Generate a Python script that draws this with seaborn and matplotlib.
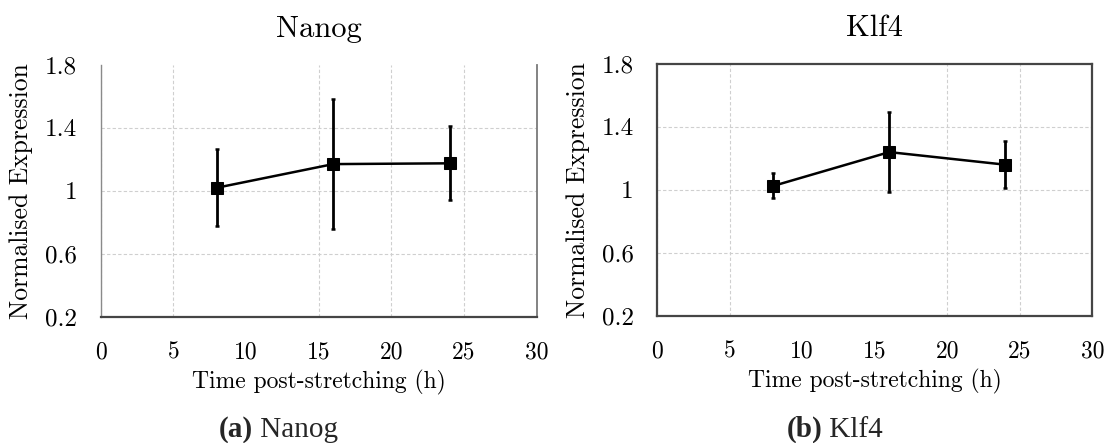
import os
import matplotlib
matplotlib.use("Agg")
import matplotlib.pyplot as plt
from matplotlib import font_manager
import seaborn as sns

# Expression after stretching (mean ± error)
hours = [8, 16, 24]
nanog_mean = [1.02, 1.17, 1.175]
nanog_err = [0.245, 0.415, 0.235]
klf4_mean = [1.025, 1.24, 1.16]
klf4_err = [0.08, 0.253, 0.151]

y_ticks = [0.2, 0.6, 1.0, 1.4, 1.8]
y_tick_labels = ["0.2", "0.6", "1", "1.4", "1.8"]
x_ticks = [0, 5, 10, 15, 20, 25, 30]
x_tick_labels = ["0", "5", "10", "15", "20", "25", "30"]

panel_titles = ["Nanog", "Klf4"]
panel_tags = ["(a)", "(b)"]

# Computer Modern for the chart text, shipped with matplotlib
cm_path = os.path.join(matplotlib.get_data_path(), "fonts", "ttf", "cmr10.ttf")
font_manager.fontManager.addfont(cm_path)
cm_name = font_manager.FontProperties(fname=cm_path).get_name()


def pick(family, fallback):
    try:
        font_manager.findfont(family, fallback_to_default=False)
        return family
    except Exception:
        return fallback


times_name = pick("Liberation Serif", "DejaVu Serif")

sns.set_theme(style="white")
plt.rcParams["font.family"] = [cm_name, "DejaVu Serif"]
plt.rcParams["axes.unicode_minus"] = False
plt.rcParams["axes.formatter.use_mathtext"] = True

fig = plt.figure(figsize=(11.08, 4.43), dpi=100)
ax_a = fig.add_axes([0.0909, 0.2851, 0.3935, 0.5682])
ax_b = fig.add_axes([0.5932, 0.2874, 0.3926, 0.5681])

series = [(ax_a, nanog_mean, nanog_err), (ax_b, klf4_mean, klf4_err)]

for i, (ax, mean, err) in enumerate(series):
    sns.lineplot(x=hours, y=mean, ax=ax, color="black", marker="s",
                 markersize=8, markeredgecolor="black", linewidth=1.8,
                 zorder=3)
    ax.errorbar(hours, mean, yerr=err, fmt="none", ecolor="black",
                elinewidth=2.0, capsize=1.6, capthick=1.8, zorder=4)

    ax.set_xlim(0, 30)
    ax.set_ylim(0.2, 1.8)
    ax.set_xticks(x_ticks)
    ax.set_xticklabels(x_tick_labels)
    ax.set_yticks(y_ticks)
    ax.set_yticklabels(y_tick_labels)
    ax.tick_params(axis="x", length=0, pad=18, labelsize=17, colors="black")
    ax.tick_params(axis="y", length=0, pad=17, labelsize=18, colors="black")

    ax.grid(True, color="#cfcfcf", linestyle=(0, (3, 2)), linewidth=0.8)
    ax.set_axisbelow(True)

    ax.set_xlabel("Time post-stretching (h)", fontsize=17, color="black")
    ax.set_ylabel("Normalised Expression", fontsize=18.5, color="black")
    ax.xaxis.set_label_coords(0.5, -0.21)
    ax.yaxis.set_label_coords(-0.155, 0.5)
    ax.set_title(panel_titles[i], fontsize=22, pad=20, color="black")

# gridline visibility per panel
for gl_idx in [2]:
    ax_a.xaxis.get_gridlines()[gl_idx].set_visible(False)
for gl_idx in [2, 3]:
    ax_b.xaxis.get_gridlines()[gl_idx].set_visible(False)
for gl_idx in [0, 4]:
    ax_a.yaxis.get_gridlines()[gl_idx].set_visible(False)
    ax_b.yaxis.get_gridlines()[gl_idx].set_visible(False)

# spines: open-topped frame on the left panel, full box on the right
ax_a.spines["top"].set_visible(False)
ax_a.spines["left"].set_color("#8a8a8a")
ax_a.spines["left"].set_linewidth(1.0)
ax_a.spines["right"].set_color("#7a7a7a")
ax_a.spines["right"].set_linewidth(1.3)
ax_a.spines["bottom"].set_color("#454545")
ax_a.spines["bottom"].set_linewidth(1.6)
for s in ax_b.spines.values():
    s.set_visible(True)
    s.set_color("#454545")
    s.set_linewidth(1.6)

# sub-figure captions: bold tag followed by regular name
fig.canvas.draw()
renderer = fig.canvas.get_renderer()
cap_y = 1 - 437 / 443
for ax, tag, name in zip([ax_a, ax_b], panel_tags, panel_titles):
    t1 = fig.text(0, cap_y, tag, fontsize=21, fontweight="bold",
                  family=times_name, ha="left", va="baseline")
    t2 = fig.text(0, cap_y, "\u00a0" + name, fontsize=21,
                  family=times_name, ha="left", va="baseline")
    w1 = t1.get_window_extent(renderer).width / fig.bbox.width
    w2 = t2.get_window_extent(renderer).width / fig.bbox.width
    bb = ax.get_position()
    cx = bb.x0 + bb.width / 2 - 40 / fig.bbox.width
    x0 = cx - (w1 + w2) / 2
    t1.set_x(x0)
    t2.set_x(x0 + w1)

fig.savefig("out.png", dpi=100, facecolor="white")
